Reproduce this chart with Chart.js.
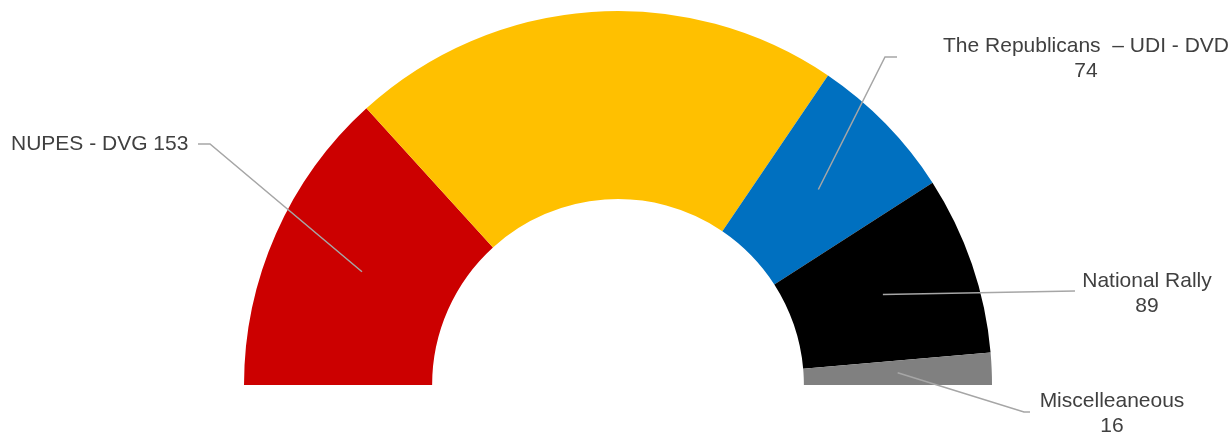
<!DOCTYPE html>
<html>
<head>
<meta charset="utf-8">
<script src="https://cdn.jsdelivr.net/npm/chart.js@4/dist/chart.umd.min.js"></script>
<style>
  html, body { margin: 0; padding: 0; background: #fff; }
  #wrap { width: 1230px; height: 434px; position: relative; }
</style>
</head>
<body>
<div id="wrap"><canvas id="seatChart"></canvas></div>
<script>
// seats per group (French National Assembly, 577 seats)
const groups = ['NUPES - DVG', 'Ensemble', 'The Republicans  \u2013 UDI - DVD', 'National Rally', 'Miscelleaneous'];
const seats = [153, 245, 74, 89, 16];
const groupColors = ['#CC0000', '#FFC000', '#0070C0', '#000000', '#808080'];

// callout placement for the labelled groups (yellow one has no label)
const callouts = [
    { index: 0, path: [[210, 144], [198, 144]], lines: [groups[0] + ' ' + seats[0]], x: 11, y: 144, align: 'left' },
    { index: 2, path: [[885, 57], [897, 57]], lines: [groups[2], String(seats[2])], x: 1086, y: 46, align: 'center' },
    { index: 3, path: [[1075, 291]], lines: [groups[3], String(seats[3])], x: 1147, y: 281, align: 'center' },
    { index: 4, path: [[1024, 412], [1030, 412]], lines: [groups[4], String(seats[4])], x: 1112, y: 401, align: 'center' }
];

const calloutPlugin = {
    id: 'callouts',
    afterDatasetsDraw(chart) {
        const ctx = chart.ctx;
        const meta = chart.getDatasetMeta(0);
        ctx.save();
        callouts.forEach(c => {
            const p = meta.data[c.index].getCenterPoint();
            ctx.beginPath();
            ctx.moveTo(p.x, p.y);
            c.path.forEach(pt => ctx.lineTo(pt[0], pt[1]));
            ctx.strokeStyle = '#a6a6a6';
            ctx.lineWidth = 1.5;
            ctx.stroke();

            ctx.fillStyle = '#404040';
            ctx.font = '21px "Liberation Sans", Arial, sans-serif';
            ctx.textAlign = c.align;
            ctx.textBaseline = 'middle';
            c.lines.forEach((t, i) => ctx.fillText(t, c.x, c.y + i * 25));
        });
        ctx.restore();
    }
};

const ctx = document.getElementById('seatChart').getContext('2d');
new Chart(ctx, {
    type: 'doughnut',
    data: {
        labels: groups,
        datasets: [{
            data: seats,
            backgroundColor: groupColors,
            borderWidth: 0
        }]
    },
    options: {
        responsive: true,
        maintainAspectRatio: false,
        animation: false,
        rotation: -90,
        circumference: 180,
        cutout: '49.7%',
        layout: {
            padding: { left: 244, right: 238, top: 11, bottom: 49 }
        },
        plugins: {
            legend: { display: false },
            tooltip: { enabled: false }
        }
    },
    plugins: [calloutPlugin]
});
</script>
</body>
</html>
